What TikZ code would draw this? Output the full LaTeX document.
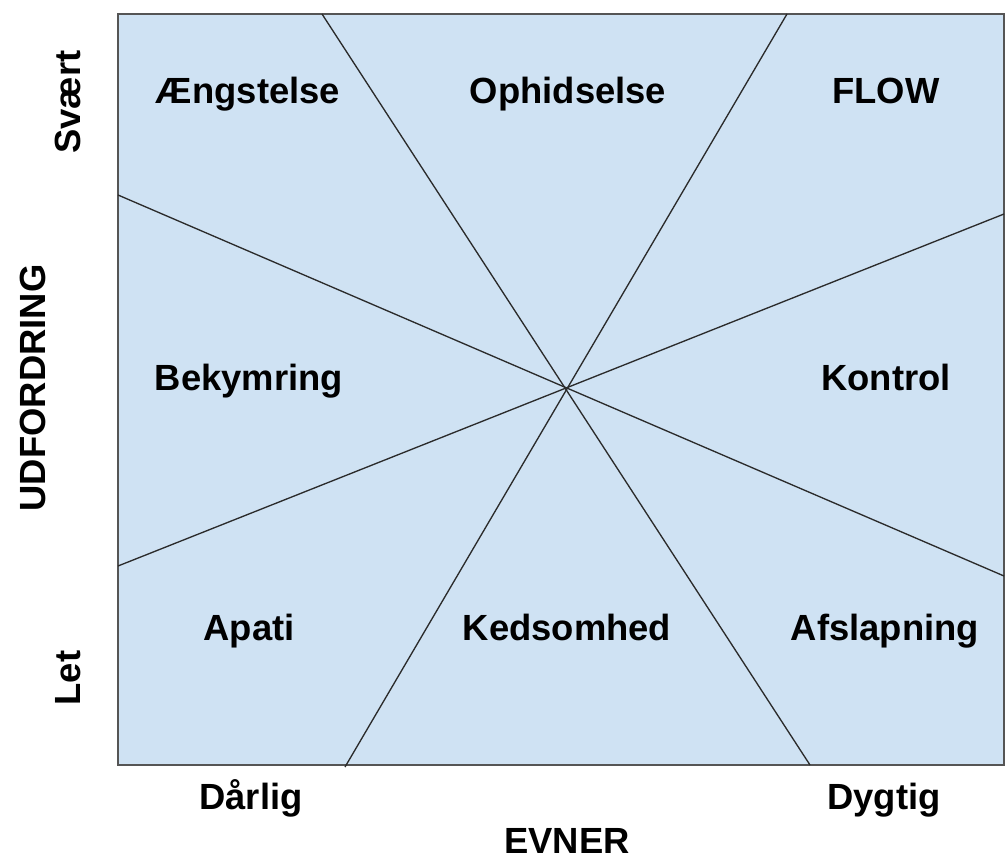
\documentclass[tikz,border=0pt]{standalone}
\usepackage{fontspec}
\setmainfont{Liberation Sans}
\usetikzlibrary{positioning}
\definecolor{zoneBlue}{HTML}{CFE2F3}
\definecolor{rayGray}{HTML}{2B2B2B}

\begin{document}
\begin{tikzpicture}[x=0.75pt,y=-0.75pt,
    every node/.style={font=\fontsize{27.3}{31}\selectfont\bfseries, inner sep=0pt},
    zone/.style={anchor=base},
    axislabel/.style={anchor=base}]

      \useasboundingbox (0,0) rectangle (1005,859);

      % draw the field
      \node[draw=rayGray!80, line width=0.9pt, fill=zoneBlue,
            minimum width=664.5pt, minimum height=563.25pt] (field) at (561,389.5) {};

      % end points of the rays
      \coordinate (t1) at (322,14);
      \coordinate (b1) at (810,765);
      \coordinate (t2) at (787,14);
      \coordinate (b2) at (345,767);
      \coordinate (r1) at (1004,214);
      \coordinate (l1) at (118,566);
      \coordinate (r2) at (1004,576);
      \coordinate (l2) at (118,195);

      % draw the rays
      \foreach \a/\b in {t1/b1,t2/b2,r1/l1,r2/l2}
        \draw[rayGray, line width=1pt] (\a) -- (\b);

      % label the zones
      \foreach \name/\px/\py [count=\i] in
        {Ængstelse/248/104, Ophidselse/568/104, FLOW/886/104,
         Bekymring/249/390, Kontrol/886/390,
         Apati/249/640, Kedsomhed/567/640, Afslapning/885/640}
        \node[zone] (zone\i) at (\px,\py) {\name};

      % label the axes
      \node[axislabel] (low) at (251,809) {Dårlig};
      \node[axislabel] (high) at (884,809) {Dygtig};
      \node[axislabel] (evner) at (567,853) {EVNER};
      \node[axislabel, rotate=90] (hard) at (80,102) {Svært};
      \node[axislabel, rotate=90] (easy) at (80,678) {Let};
      \node[axislabel, rotate=90] (udf) at (45,388) {UDFORDRING};

\end{tikzpicture}
\end{document}
